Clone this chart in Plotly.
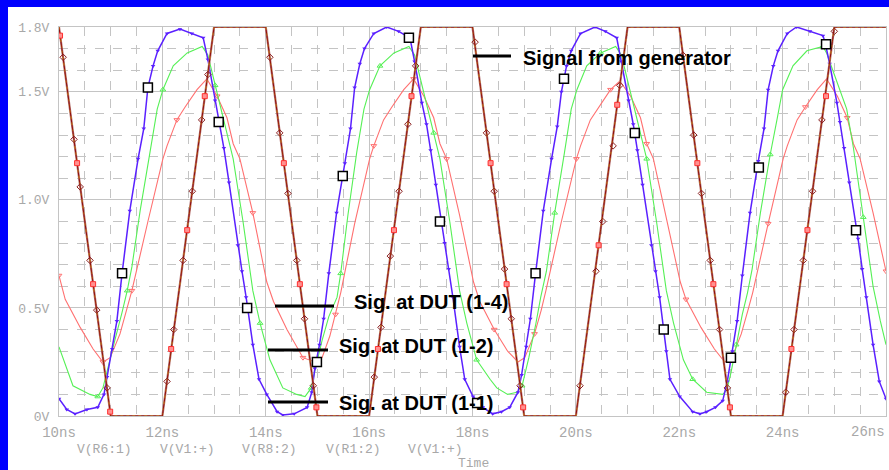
import plotly.graph_objects as go

# ---------------- data ----------------
gen_t = [10, 11, 12, 13, 14, 15, 16, 17, 18, 19, 20, 21, 22, 23, 24, 25, 26]
gen_v = [1.8, 0, 0, 1.8, 1.8, 0, 0, 1.8, 1.8, 0, 0, 1.8, 1.8, 0, 0, 1.8, 1.8]

gen_dia_t = [10.08, 10.29, 10.41, 10.60, 10.73, 10.93, 12.09, 12.22, 12.40, 12.58, 12.76, 12.88,
             14.08, 14.27, 14.43, 14.60, 14.75, 14.92, 16.10, 16.23, 16.41, 16.58, 16.75, 16.90,
             18.05, 18.27, 18.42, 18.62, 18.75, 18.92, 20.08, 20.39, 20.52, 20.72, 20.85, 22.07,
             22.28, 22.43, 22.60, 22.78, 22.93, 24.06, 24.22, 24.40, 24.58, 24.76, 25.00]
gen_dia_v = [1.66, 1.28, 1.06, 0.72, 0.49, 0.13, 0.16, 0.40, 0.72, 1.04, 1.37, 1.58,
             1.66, 1.31, 1.03, 0.72, 0.45, 0.14, 0.18, 0.41, 0.74, 1.04, 1.35, 1.62,
             1.73, 1.31, 1.04, 0.68, 0.45, 0.14, 0.14, 0.67, 0.90, 1.25, 1.53, 1.67,
             1.30, 1.03, 0.72, 0.40, 0.13, 0.11, 0.40, 0.72, 1.04, 1.37, 1.78]
gen_sq_t = [10.02, 10.35, 10.66, 10.99, 12.17, 12.48, 12.82, 14.35, 14.66, 14.98, 16.17, 16.48,
            16.82, 18.35, 18.66, 18.98, 20.44, 20.80, 22.35, 22.66, 22.98, 24.17, 24.48, 24.84]
gen_sq_v = [1.76, 1.17, 0.61, 0.02, 0.31, 0.86, 1.48, 1.17, 0.61, 0.04, 0.31, 0.86,
            1.48, 1.17, 0.61, 0.04, 0.79, 1.44, 1.17, 0.61, 0.04, 0.31, 0.86, 1.48]

blue_t = [10.00, 10.15, 10.31, 10.54, 10.75, 10.87, 10.93, 11.03, 11.12, 11.22, 11.37, 11.53, 11.64, 11.72, 11.82,
          11.91, 12.09, 12.34, 12.57, 12.79, 12.88, 13.02, 13.11, 13.19, 13.29, 13.46, 13.54, 13.62, 13.75, 13.87,
          14.02, 14.22, 14.33, 14.55, 14.80, 14.89, 14.95, 15.04, 15.12, 15.22, 15.37, 15.53, 15.64, 15.72, 15.82,
          15.91, 16.09, 16.34, 16.57, 16.79, 16.88, 17.02, 17.11, 17.19, 17.29, 17.46, 17.54, 17.62, 17.75, 17.85,
          18.01, 18.20, 18.39, 18.56, 18.72, 18.88, 18.95, 19.04, 19.12, 19.22, 19.37, 19.53, 19.64, 19.72, 19.82,
          19.91, 20.09, 20.37, 20.57, 20.79, 20.88, 21.02, 21.11, 21.19, 21.29, 21.46, 21.54, 21.62, 21.75, 21.82,
          22.01, 22.26, 22.40, 22.53, 22.70, 22.84, 22.93, 23.03, 23.12, 23.22, 23.37, 23.53, 23.64, 23.72, 23.82,
          23.91, 24.09, 24.27, 24.53, 24.78, 24.82, 24.91, 25.05, 25.11, 25.19, 25.29, 25.46, 25.54, 25.62, 25.75,
          25.87, 26.00]
blue_v = [0.08, 0.03, 0.01, 0.03, 0.04, 0.10, 0.18, 0.31, 0.44, 0.66, 0.95, 1.19, 1.33, 1.52, 1.62,
          1.69, 1.77, 1.79, 1.77, 1.75, 1.65, 1.46, 1.35, 1.24, 1.08, 0.79, 0.67, 0.55, 0.33, 0.17,
          0.10, 0.02, 0.005, 0.01, 0.04, 0.11, 0.22, 0.33, 0.45, 0.66, 0.94, 1.17, 1.33, 1.52, 1.63,
          1.70, 1.77, 1.80, 1.78, 1.75, 1.64, 1.45, 1.35, 1.23, 1.07, 0.80, 0.68, 0.55, 0.32, 0.17,
          0.09, 0.04, 0.01, 0.02, 0.04, 0.11, 0.19, 0.32, 0.45, 0.66, 0.95, 1.19, 1.34, 1.50, 1.62,
          1.69, 1.77, 1.80, 1.78, 1.75, 1.64, 1.46, 1.35, 1.23, 1.07, 0.79, 0.67, 0.55, 0.30, 0.17,
          0.09, 0.02, 0.01, 0.02, 0.04, 0.07, 0.16, 0.30, 0.44, 0.65, 0.94, 1.18, 1.33, 1.51, 1.62,
          1.69, 1.77, 1.80, 1.78, 1.76, 1.73, 1.63, 1.45, 1.36, 1.24, 1.08, 0.82, 0.68, 0.55, 0.33,
          0.16, 0.08]

green_t = [10.00, 10.27, 10.60, 10.75, 10.85, 10.95, 11.08, 11.22, 11.32, 11.41, 11.57, 11.76, 11.90, 12.01,
           12.21, 12.48, 12.77, 12.88, 13.02, 13.25, 13.37, 13.56, 13.75, 13.89,
           14.08, 14.33, 14.60, 14.76, 14.88, 14.97, 15.09, 15.22, 15.38, 15.45, 15.59, 15.76, 15.90, 16.01,
           16.21, 16.48, 16.77, 16.88, 17.02, 17.25, 17.37, 17.56, 17.75, 17.89,
           18.08, 18.34, 18.47, 18.68, 18.86, 18.96, 19.09, 19.22, 19.32, 19.43, 19.59, 19.78, 19.91, 20.02,
           20.21, 20.48, 20.77, 20.88, 21.02, 21.25, 21.37, 21.56, 21.75, 21.89,
           22.08, 22.26, 22.53, 22.84, 22.92, 23.00, 23.10, 23.22, 23.32, 23.41, 23.57, 23.76, 23.89, 24.00,
           24.20, 24.47, 24.78, 24.85, 24.97, 25.24, 25.37, 25.56, 25.75, 25.89, 26.00]
green_v = [0.32, 0.14, 0.10, 0.09, 0.13, 0.23, 0.35, 0.48, 0.58, 0.69, 0.95, 1.22, 1.42, 1.51,
           1.62, 1.68, 1.71, 1.67, 1.53, 1.31, 1.19, 0.90, 0.58, 0.43,
           0.26, 0.13, 0.10, 0.09, 0.13, 0.23, 0.35, 0.46, 0.55, 0.66, 0.93, 1.22, 1.42, 1.51,
           1.62, 1.68, 1.71, 1.67, 1.53, 1.31, 1.19, 0.90, 0.58, 0.43,
           0.26, 0.17, 0.13, 0.10, 0.11, 0.14, 0.27, 0.42, 0.55, 0.67, 0.94, 1.22, 1.42, 1.51,
           1.62, 1.68, 1.71, 1.67, 1.53, 1.31, 1.19, 0.90, 0.58, 0.43,
           0.26, 0.17, 0.11, 0.10, 0.12, 0.20, 0.33, 0.47, 0.57, 0.68, 0.94, 1.21, 1.37, 1.51,
           1.62, 1.69, 1.71, 1.68, 1.60, 1.42, 1.24, 0.92, 0.60, 0.44, 0.33]

red_t = [10.00, 10.12, 10.41, 10.66, 10.85, 10.99, 11.18, 11.32, 11.41, 11.72, 12.01, 12.09, 12.28, 12.44,
         12.67, 12.86, 13.06, 13.25, 13.37, 13.50, 13.75,
         14.02, 14.15, 14.41, 14.72, 14.95, 15.09, 15.24, 15.35, 15.45, 15.72, 16.01, 16.09, 16.28, 16.44,
         16.67, 16.86, 17.06, 17.25, 17.37, 17.50, 17.75,
         18.02, 18.14, 18.42, 18.68, 18.88, 19.01, 19.20, 19.33, 19.42, 19.72, 20.01, 20.09, 20.28, 20.44,
         20.67, 20.85, 21.06, 21.25, 21.37, 21.50, 21.78,
         22.02, 22.13, 22.42, 22.68, 22.88, 23.02, 23.20, 23.33, 23.42, 23.72, 24.01, 24.09, 24.28, 24.44,
         24.67, 24.85, 25.06, 25.25, 25.37, 25.50, 25.75, 26.00]
red_v = [0.65, 0.54, 0.41, 0.31, 0.25, 0.27, 0.38, 0.50, 0.58, 0.90, 1.19, 1.25, 1.37, 1.43,
         1.51, 1.56, 1.48, 1.38, 1.26, 1.19, 0.94,
         0.62, 0.53, 0.40, 0.27, 0.25, 0.27, 0.37, 0.47, 0.57, 0.89, 1.19, 1.25, 1.37, 1.43,
         1.51, 1.56, 1.48, 1.38, 1.26, 1.19, 0.93,
         0.62, 0.53, 0.40, 0.30, 0.25, 0.27, 0.38, 0.49, 0.58, 0.90, 1.19, 1.25, 1.37, 1.43,
         1.51, 1.55, 1.48, 1.38, 1.26, 1.19, 0.88,
         0.62, 0.54, 0.41, 0.31, 0.25, 0.27, 0.38, 0.49, 0.57, 0.89, 1.19, 1.25, 1.37, 1.43,
         1.51, 1.56, 1.48, 1.38, 1.26, 1.19, 0.94, 0.67]

cursor_t = [11.22, 11.72, 13.09, 13.64, 14.99, 15.49, 16.77, 17.37, 18.09, 19.22, 19.77, 21.14,
            21.70, 23.00, 23.54, 24.84, 25.42]
cursor_v = [0.66, 1.52, 1.36, 0.50, 0.25, 1.11, 1.75, 0.90, 0.06, 0.66, 1.56, 1.31,
            0.40, 0.27, 1.15, 1.72, 0.86]

x_ticks = [10, 12, 14, 16, 18, 20, 22, 24]
x_labels = ["10ns", "12ns", "14ns", "16ns", "18ns", "20ns", "22ns", "24ns"]
x_last_label = "26ns"
y_ticks = [0, 0.5, 1.0, 1.5, 1.8]
y_labels = ["0V", "0.5V", "1.0V", "1.5V", "1.8V"]

legend_names = ["V(R6:1)", "V(V1:+)", "V(R8:2)", "V(R1:2)", "V(V1:+)"]
legend_symbols = ["square-open", "diamond-open", "triangle-down", "triangle-up-open", "diamond-open"]
legend_colors = ["#ff4040", "#a04040", "#5a20ff", "#40e040", "#a04040"]

callouts = ["Signal from generator", "Sig. at DUT (1-4)", "Sig. at DUT (1-2)", "Sig. at DUT (1-1)"]

# ---------------- geometry ----------------
W, H = 889, 470
L, R, T, B = 59, 3, 27, 54
PW, PH = W - L - R, H - T - B


def px(x):
    return (x - L) / PW


def py(y):
    return (H - B - y) / PH


BLUE = "#5a20ff"
GREEN = "#55f055"
RED = "#ff7070"
MONO = "Liberation Mono, DejaVu Sans Mono, monospace"
GRAYTXT = "#a8a8a8"

fig = go.Figure()

fig.add_trace(go.Scatter(x=red_t, y=red_v, mode="lines+markers", line=dict(color=RED, width=1.1),
                         marker=dict(symbol="triangle-down-open", size=5, color=RED, maxdisplayed=22),
                         showlegend=False))
fig.add_trace(go.Scatter(x=green_t, y=green_v, mode="lines+markers", line=dict(color=GREEN, width=1.1),
                         marker=dict(symbol="triangle-up-open", size=5, color=GREEN, maxdisplayed=24),
                         showlegend=False))
fig.add_trace(go.Scatter(x=blue_t, y=blue_v, mode="lines+markers", line=dict(color=BLUE, width=1.5),
                         marker=dict(symbol="triangle-down", size=4, color=BLUE),
                         showlegend=False))
fig.add_trace(go.Scatter(x=gen_t, y=gen_v, mode="lines", line=dict(color="#b47272", width=2.2),
                         showlegend=False))
fig.add_trace(go.Scatter(x=gen_t, y=gen_v, mode="lines", line=dict(color="#ffff40", width=1, dash="dot"),
                         showlegend=False))
fig.add_trace(go.Scatter(x=gen_t, y=gen_v, mode="lines", line=dict(color="#8b0000", width=0.9),
                         showlegend=False))
fig.add_trace(go.Scatter(x=gen_dia_t, y=gen_dia_v, mode="markers",
                         marker=dict(symbol="diamond-open", size=5, color="#8b2020", line=dict(width=1)),
                         showlegend=False))
fig.add_trace(go.Scatter(x=gen_sq_t, y=gen_sq_v, mode="markers",
                         marker=dict(symbol="square", size=5, color="#ff9090", line=dict(color="#ff3030", width=1)),
                         showlegend=False))
fig.add_trace(go.Scatter(x=cursor_t, y=cursor_v, mode="markers",
                         marker=dict(symbol="square", size=9, color="white", line=dict(color="black", width=1.5)),
                         showlegend=False))

leg_x = [63, 147, 228, 312, 395]
fig.add_trace(go.Scatter(x=leg_x, y=[448] * 5, mode="markers", xaxis="x2", yaxis="y2", cliponaxis=False,
                         marker=dict(symbol=legend_symbols, color=legend_colors, size=6,
                                     line=dict(color=legend_colors, width=1.2)),
                         showlegend=False, hoverinfo="skip"))

grid_c = "#c4c4c4"

fig.update_layout(
    width=W, height=H,
    margin=dict(l=L, r=R, t=T, b=B, pad=0),
    paper_bgcolor="white", plot_bgcolor="white",
    showlegend=False,
    xaxis=dict(range=[10, 26], tickvals=x_ticks, ticktext=x_labels,
               tickfont=dict(family=MONO, size=14, color=GRAYTXT),
               showgrid=True, gridcolor=grid_c, gridwidth=1, zeroline=False,
               showline=True, linecolor=grid_c, linewidth=1, mirror=True,
               ticks="outside", ticklen=3, tickcolor="rgba(0,0,0,0)",
               minor=dict(dtick=0.5, tick0=10, showgrid=True, gridcolor=grid_c, griddash="dash", gridwidth=1)),
    yaxis=dict(range=[0, 1.8], tickvals=y_ticks, ticktext=y_labels,
               tickfont=dict(family=MONO, size=13, color=GRAYTXT),
               showgrid=True, gridcolor=grid_c, gridwidth=1, zeroline=False,
               showline=True, linecolor=grid_c, linewidth=1, mirror=True,
               ticks="outside", ticklen=6, tickcolor="rgba(0,0,0,0)",
               minor=dict(dtick=0.1, tick0=0, showgrid=True, gridcolor=grid_c, griddash="dash", gridwidth=1)),
    xaxis2=dict(overlaying="x", range=[L, W - R], visible=False, fixedrange=True),
    yaxis2=dict(overlaying="y", range=[H - B, T], visible=False, fixedrange=True),
)

# last x tick label, kept inside the window like the original
fig.add_annotation(x=px(887), y=py(432), xref="paper", yref="paper", text=x_last_label, showarrow=False,
                   xanchor="right", yanchor="middle", font=dict(family=MONO, size=14, color=GRAYTXT))

# blue window frame (top and left)
fig.add_shape(type="rect", xref="paper", yref="paper", x0=px(0), x1=px(W), y0=py(7), y1=py(0),
              fillcolor="#0000fe", line=dict(width=0), layer="above")
fig.add_shape(type="rect", xref="paper", yref="paper", x0=px(0), x1=px(8), y0=py(H), y1=py(0),
              fillcolor="#0000fe", line=dict(width=0), layer="above")

callout_lines = [(473, 511, 56), (275, 334, 306), (268, 328, 350), (268, 328, 402)]
callout_text = [(521, 58), (352, 302), (337, 346), (337, 403)]
for (xa, xb, yy), (tx, ty), txt in zip(callout_lines, callout_text, callouts):
    fig.add_shape(type="line", xref="paper", yref="paper", x0=px(xa), x1=px(xb), y0=py(yy), y1=py(yy),
                  line=dict(color="black", width=3), layer="above")
    fig.add_annotation(x=px(tx), y=py(ty), xref="paper", yref="paper", text="<b>" + txt + "</b>",
                       showarrow=False, xanchor="left", yanchor="middle",
                       font=dict(family="Liberation Sans, Arial, sans-serif", size=20, color="black"))

leg_text_x = [75, 158, 240, 324, 406]
for lx, name in zip(leg_text_x, legend_names):
    fig.add_annotation(x=px(lx), y=py(449), xref="paper", yref="paper", text=name, showarrow=False,
                       xanchor="left", yanchor="middle", font=dict(family=MONO, size=13, color=GRAYTXT))

fig.add_annotation(x=px(473), y=py(464), xref="paper", yref="paper", text="Time", showarrow=False,
                   xanchor="center", yanchor="middle", font=dict(family=MONO, size=13, color=GRAYTXT))

fig.write_html("out.html")
